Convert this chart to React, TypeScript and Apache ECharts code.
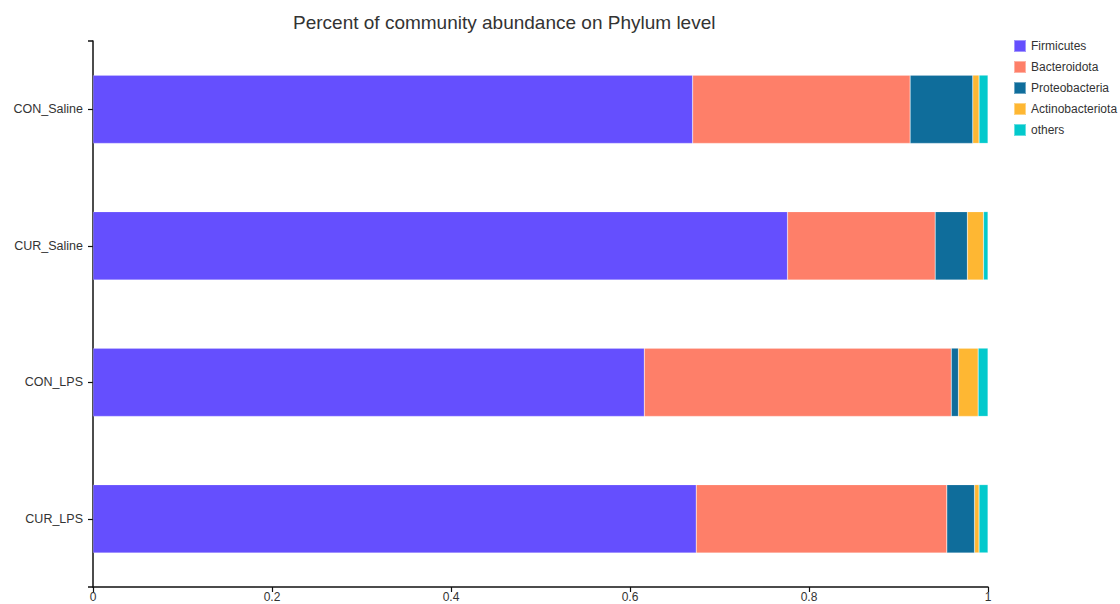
import React, { useEffect, useRef } from "react";
import * as echarts from "echarts";

const categories = ["CON_Saline", "CUR_Saline", "CON_LPS", "CUR_LPS"];
const seriesNames = ["Firmicutes", "Bacteroidota", "Proteobacteria", "Actinobacteriota", "others"];
const firmicutes = [0.670, 0.776, 0.616, 0.674];
const bacteroidota = [0.243, 0.165, 0.343, 0.280];
const proteobacteria = [0.070, 0.036, 0.008, 0.031];
const actinobacteriota = [0.007, 0.018, 0.022, 0.005];
const others = [0.010, 0.005, 0.011, 0.010];
const colors = ["#654ffe", "#fe7f69", "#0f6d9b", "#feb733", "#03c9cc"];

const FONT = "Liberation Sans, Arial, sans-serif";

export default function App() {
  const ref = useRef<HTMLDivElement>(null);
  useEffect(() => {
    document.body.style.margin = "0";
    const chart = echarts.init(ref.current!, null, { renderer: "svg" });
    const values = [firmicutes, bacteroidota, proteobacteria, actinobacteriota, others];
    chart.setOption({
      animation: false,
      title: {
        text: "Percent of community abundance on Phylum level",
        left: 288,
        top: 8,
        textStyle: { fontSize: 19, fontWeight: "normal", color: "#333", fontFamily: FONT },
      },
      legend: {
        orient: "vertical",
        left: 1008,
        top: 34,
        itemWidth: 12,
        itemHeight: 12,
        itemGap: 7,
        icon: "rect",
        data: seriesNames,
        textStyle: { fontSize: 12, color: "#333", fontFamily: FONT },
      },
      grid: { left: 93, right: 132, top: 41, bottom: 17, containLabel: false, outerBoundsMode: "none" },
      xAxis: {
        type: "value",
        min: 0,
        max: 1,
        interval: 0.2,
        splitLine: { show: false },
        axisLine: { show: true, lineStyle: { color: "#111", width: 1.5 } },
        axisTick: { show: true, length: 5, lineStyle: { color: "#111", width: 1.2 } },
        axisLabel: { fontSize: 12, color: "#333", margin: 4, fontFamily: FONT },
      },
      yAxis: {
        type: "category",
        data: categories,
        inverse: true,
        axisLine: { show: true, lineStyle: { color: "#111", width: 1.5 } },
        axisTick: { show: true, alignWithLabel: true, length: 5, lineStyle: { color: "#111", width: 1.2 } },
        axisLabel: { fontSize: 12.5, color: "#333", margin: 10, fontFamily: FONT },
      },
      graphic: [
        { type: "line", shape: { x1: 88, y1: 41, x2: 93, y2: 41 }, style: { stroke: "#111", lineWidth: 1.5 } },
        { type: "line", shape: { x1: 88, y1: 587, x2: 93, y2: 587 }, style: { stroke: "#111", lineWidth: 1.5 } },
      ],
      series: seriesNames.map((name, i) => ({
        name,
        type: "bar",
        stack: "total",
        barWidth: "50%",
        data: values[i],
        itemStyle: { color: colors[i], borderColor: "rgba(255,255,255,0.4)", borderWidth: 0.5 },
      })),
    });
    return () => chart.dispose();
  }, []);
  return <div ref={ref} style={{ width: 1120, height: 604 }} />;
}
